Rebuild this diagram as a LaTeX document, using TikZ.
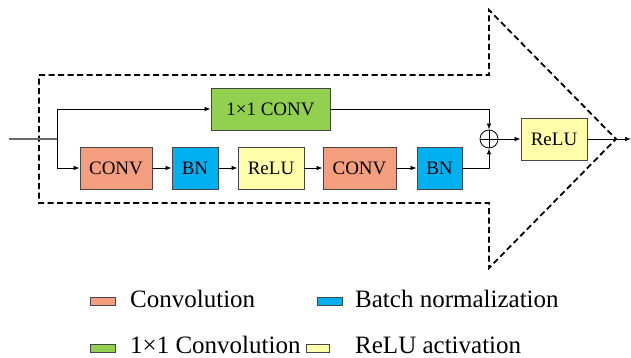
\documentclass[tikz,border=0pt]{standalone}
\usepackage{fontspec}
\setmainfont{Liberation Serif}
\newfontfamily\tms{Liberation Serif}
\usetikzlibrary{arrows.meta}
\definecolor{cconv}{RGB}{244,158,128}
\definecolor{cbn}{RGB}{0,176,240}
\definecolor{cone}{RGB}{146,208,80}
\definecolor{crelu}{RGB}{255,255,170}
\definecolor{cedge}{RGB}{70,70,70}
\begin{document}
\begin{tikzpicture}[x=1pt,y=-1pt,
  blk/.style={draw=cedge,line width=0.9pt,inner sep=0pt,font=\tms\fontsize{19}{19}\selectfont},
  arr/.style={line width=0.8pt,-{Latex[length=6pt,width=4.5pt]}},
  sw/.style={draw=cedge,line width=0.8pt,minimum width=25pt,minimum height=8pt,inner sep=0pt},
  lg/.style={anchor=base west,inner sep=0pt,font=\tms\fontsize{25}{25}\selectfont}]
\useasboundingbox (0,0) rectangle (631,358);
% dashed arrow outline
\draw[line width=1.8pt,dash pattern=on 6pt off 3.5pt] (39,75) -- (489,75) -- (489,10) -- (616,139) -- (489,268) -- (489,203) -- (39,203) -- cycle;
% blocks
\node[blk,fill=cone,minimum width=119pt,minimum height=42pt] (one) at (270.5,109) {1×1 CONV};
\node[blk,fill=cconv,minimum width=72pt,minimum height=42pt] (c1) at (116,168) {CONV};
\node[blk,fill=cbn,minimum width=46pt,minimum height=42pt] (b1) at (195,168) {BN};
\node[blk,fill=crelu,minimum width=66pt,minimum height=42pt] (r1) at (271,168) {ReLU};
\node[blk,fill=cconv,minimum width=73pt,minimum height=42pt] (c2) at (359.5,168) {CONV};
\node[blk,fill=cbn,minimum width=45pt,minimum height=42pt] (b2) at (439.5,168) {BN};
\node[blk,fill=crelu,minimum width=66pt,minimum height=42pt] (r2) at (554,139) {ReLU};
\node[circle,draw,line width=0.8pt,minimum size=18pt,inner sep=0pt] (sum) at (489,139) {};
\draw[line width=0.8pt] (sum.north) -- (sum.south) (sum.west) -- (sum.east);
% connectors
\coordinate (in) at (9,139);
\coordinate (sp) at (57,139);
\draw[line width=1.3pt,draw=cedge!80] (in) -- (sp);
\draw[arr] (sp) |- (one.west);
\draw[arr] (sp) |- (c1.west);
\draw[arr] (c1) -- (b1);
\draw[arr] (b1) -- (r1);
\draw[arr] (r1) -- (c2);
\draw[arr] (c2) -- (b2);
\draw[arr] (one.east) -| (sum.north);
\draw[arr] (b2.east) -| (sum.south);
\draw[arr] (sum) -- (r2);
\coordinate (out) at (631,139);
\draw[arr] (r2) -- (out);
% legend
\node[sw,fill=cconv] (s1) at (102.5,301) {};
\node[lg] (t1) at (130,307) {Convolution};
\node[sw,fill=cbn] (s2) at (330,301) {};
\node[lg] (t2) at (355,307) {Batch normalization};
\node[sw,fill=cone] (s3) at (102.5,348) {};
\node[lg] (t3) at (130,353.5) {1×1 Convolution};
\node[sw,fill=crelu,minimum width=23pt] (s4) at (317.5,348) {};
\node[lg] (t4) at (355,353.5) {ReLU activation};
\end{tikzpicture}
\end{document}
